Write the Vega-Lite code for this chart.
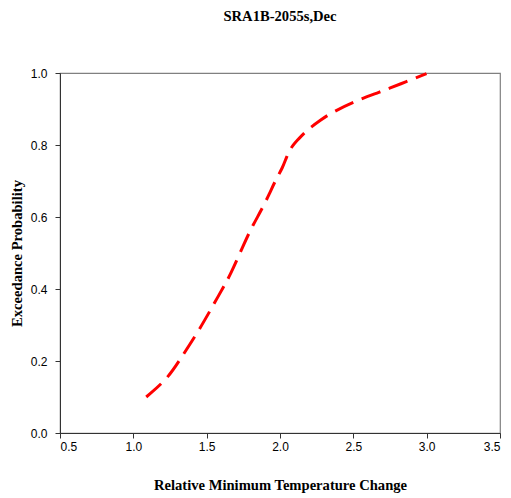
{
  "$schema": "https://vega.github.io/schema/vega-lite/v6.json",
  "width": 440,
  "height": 360,
  "autosize": "none",
  "padding": {"left": 60, "top": 73, "right": 11, "bottom": 65},
  "background": "white",
  "title": {
    "text": "SRA1B-2055s,Dec",
    "font": "Liberation Serif",
    "fontSize": 14.6,
    "fontWeight": "bold",
    "color": "black",
    "anchor": "middle",
    "offset": 43
  },
  "config": {
    "view": {"stroke": "#808080", "strokeWidth": 1.2},
    "axis": {
      "grid": false,
      "domainColor": "#333333",
      "tickColor": "#333333",
      "tickSize": 5,
      "labelFont": "Liberation Sans",
      "labelFontSize": 12,
      "labelColor": "black",
      "titleFont": "Liberation Serif",
      "titleFontSize": 14.6,
      "titleFontWeight": "bold",
      "titleColor": "black"
    }
  },
  "data": {
    "values": [
      {"x": 1.088, "p": 0.100},
      {"x": 1.236, "p": 0.152},
      {"x": 1.316, "p": 0.203},
      {"x": 1.452, "p": 0.287},
      {"x": 1.589, "p": 0.388},
      {"x": 1.657, "p": 0.434},
      {"x": 1.760, "p": 0.531},
      {"x": 1.816, "p": 0.578},
      {"x": 1.873, "p": 0.619},
      {"x": 1.930, "p": 0.666},
      {"x": 1.964, "p": 0.698},
      {"x": 2.021, "p": 0.739},
      {"x": 2.044, "p": 0.767},
      {"x": 2.078, "p": 0.795},
      {"x": 2.123, "p": 0.815},
      {"x": 2.181, "p": 0.841},
      {"x": 2.283, "p": 0.871},
      {"x": 2.340, "p": 0.887},
      {"x": 2.499, "p": 0.920},
      {"x": 2.681, "p": 0.947},
      {"x": 2.817, "p": 0.969},
      {"x": 2.999, "p": 0.998}
    ]
  },
  "mark": {
    "type": "line",
    "color": "#ff0000",
    "strokeWidth": 3,
    "strokeDash": [20, 9],
    "interpolate": "basis"
  },
  "encoding": {
    "x": {
      "field": "x",
      "type": "quantitative",
      "scale": {"domain": [0.5, 3.5], "nice": false, "zero": false},
      "axis": {
        "title": "Relative Minimum Temperature Change",
        "values": [0.5, 1.0, 1.5, 2.0, 2.5, 3.0, 3.5],
        "format": ".1f",
        "labelPadding": 3,
        "titlePadding": 25
      }
    },
    "y": {
      "field": "p",
      "type": "quantitative",
      "scale": {"domain": [0, 1], "nice": false},
      "axis": {
        "title": "Exceedance Probability",
        "values": [0, 0.2, 0.4, 0.6, 0.8, 1.0],
        "format": ".1f",
        "labelPadding": 8,
        "titlePadding": 6
      }
    }
  }
}
